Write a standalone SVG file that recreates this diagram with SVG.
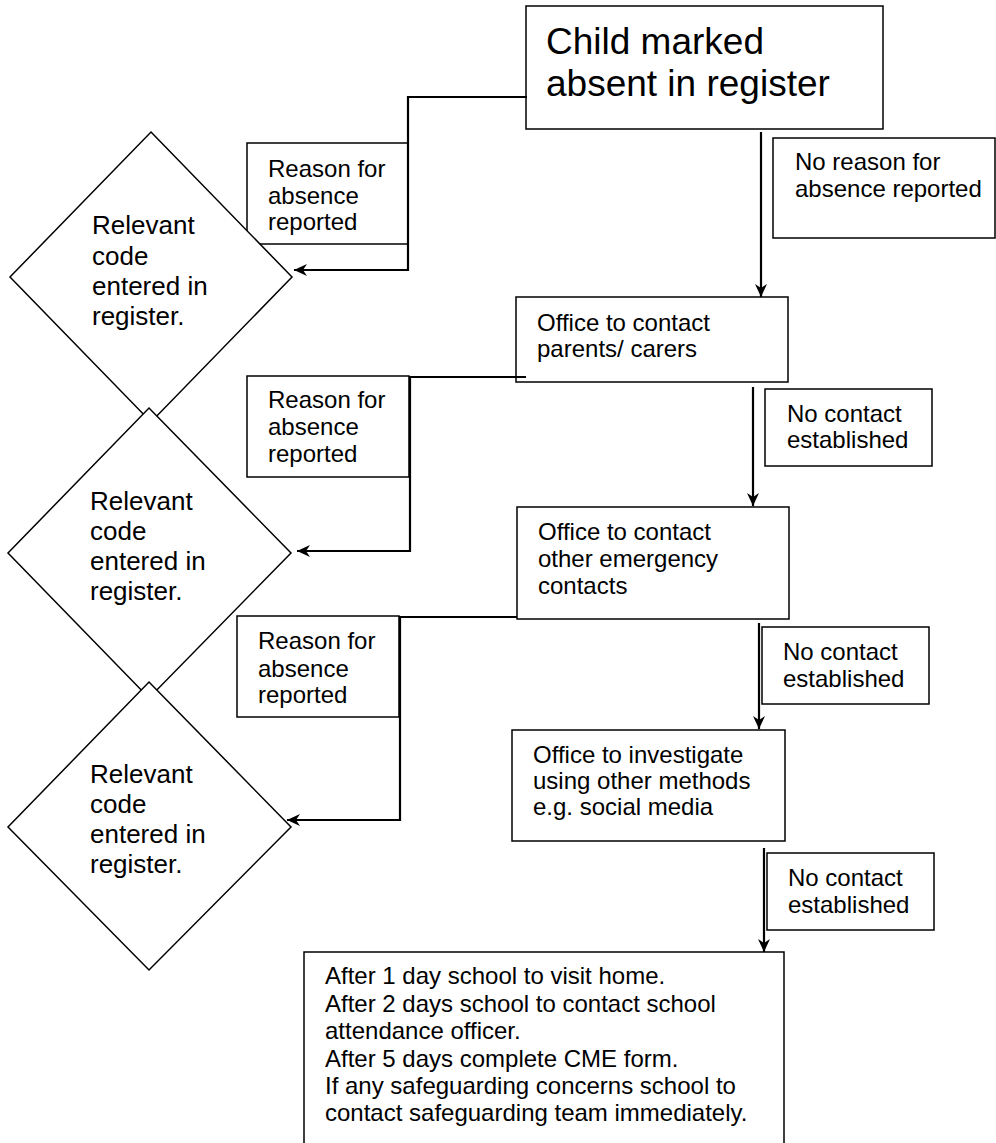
<svg xmlns="http://www.w3.org/2000/svg" width="996" height="1143" viewBox="0 0 996 1143">
<defs>
<marker id="arr" markerUnits="userSpaceOnUse" markerWidth="14" markerHeight="12" refX="13" refY="6" orient="auto">
<path d="M0,0 L13,6 L0,12 L4,6 z" fill="#000"/>
</marker>
<style>
.box{fill:#fff;stroke:#000;stroke-width:1.5}
.dia{fill:#fff;stroke:#000;stroke-width:1.5}
.t{font-family:"Liberation Sans",Arial,sans-serif;font-size:24px;fill:#000}
.td{font-family:"Liberation Sans",Arial,sans-serif;font-size:26px;fill:#000}
.tt{font-family:"Liberation Sans",Arial,sans-serif;font-size:37px;fill:#000}
.ca{fill:none;stroke:#000;stroke-width:2.2;marker-end:url(#arr)}
</style>
</defs>
<rect width="996" height="1143" fill="#fff"/>
<g id="start">
<rect class="box" x="526" y="6" width="357" height="123"/>
<text class="tt" x="546" y="54">Child marked</text>
<text class="tt" x="546" y="96">absent in register</text>
</g>
<g id="label-no-reason">
<rect class="box" x="773" y="138" width="222" height="100"/>
<text class="t" x="795" y="170">No reason for</text>
<text class="t" x="795" y="197">absence reported</text>
</g>
<g id="reason1">
<rect class="box" x="247" y="143" width="161" height="101"/>
<text class="t" x="268" y="177">Reason for</text>
<text class="t" x="268" y="204">absence</text>
<text class="t" x="268" y="230">reported</text>
</g>
<g id="office-parents">
<rect class="box" x="516" y="297" width="272" height="85"/>
<text class="t" x="537" y="331">Office to contact</text>
<text class="t" x="537" y="357">parents/ carers</text>
</g>
<g id="reason2">
<rect class="box" x="247" y="376" width="162" height="101"/>
<text class="t" x="268" y="408">Reason for</text>
<text class="t" x="268" y="435">absence</text>
<text class="t" x="268" y="462">reported</text>
</g>
<g id="label-no-contact1">
<rect class="box" x="765" y="389" width="167" height="77"/>
<text class="t" x="787" y="422">No contact</text>
<text class="t" x="787" y="448">established</text>
</g>
<g id="office-emergency">
<rect class="box" x="517" y="507" width="272" height="112"/>
<text class="t" x="538" y="540">Office to contact</text>
<text class="t" x="538" y="567">other emergency</text>
<text class="t" x="538" y="594">contacts</text>
</g>
<g id="reason3">
<rect class="box" x="237" y="616" width="162" height="101"/>
<text class="t" x="258" y="649">Reason for</text>
<text class="t" x="258" y="677">absence</text>
<text class="t" x="258" y="703">reported</text>
</g>
<g id="label-no-contact2">
<rect class="box" x="762" y="627" width="167" height="77"/>
<text class="t" x="783" y="660">No contact</text>
<text class="t" x="783" y="687">established</text>
</g>
<g id="office-investigate">
<rect class="box" x="512" y="730" width="273" height="111"/>
<text class="t" x="533" y="763">Office to investigate</text>
<text class="t" x="533" y="789">using other methods</text>
<text class="t" x="533" y="815">e.g. social media</text>
</g>
<g id="label-no-contact3">
<rect class="box" x="767" y="853" width="167" height="77"/>
<text class="t" x="788" y="886">No contact</text>
<text class="t" x="788" y="913">established</text>
</g>
<g id="final">
<rect class="box" x="304" y="952" width="480" height="210"/>
<text class="t" x="325" y="984">After 1 day school to visit home.</text>
<text class="t" x="325" y="1012">After 2 days school to contact school</text>
<text class="t" x="325" y="1039">attendance officer.</text>
<text class="t" x="325" y="1067">After 5 days complete CME form.</text>
<text class="t" x="325" y="1094">If any safeguarding concerns school to</text>
<text class="t" x="325" y="1121">contact safeguarding team immediately.</text>
</g>
<g id="decision1">
<polygon class="dia" points="151,132 292,277 151,422 10,277"/>
<text class="td" x="92" y="234">Relevant</text>
<text class="td" x="92" y="265">code</text>
<text class="td" x="92" y="295">entered in</text>
<text class="td" x="92" y="325">register.</text>
</g>
<g id="decision2">
<polygon class="dia" points="149,408 291,553 149,698 8,553"/>
<text class="td" x="90" y="510">Relevant</text>
<text class="td" x="90" y="540">code</text>
<text class="td" x="90" y="570">entered in</text>
<text class="td" x="90" y="600">register.</text>
</g>
<g id="decision3">
<polygon class="dia" points="149,682 291,827 149,970 8,827"/>
<text class="td" x="90" y="783">Relevant</text>
<text class="td" x="90" y="813">code</text>
<text class="td" x="90" y="843">entered in</text>
<text class="td" x="90" y="873">register.</text>
</g>
<g id="connectors">
<path class="ca" d="M527,97 H408 V270 H294"/>
<path class="ca" d="M526,377 H410 V551 H297"/>
<path class="ca" d="M517,617 H400 V820 H287"/>
<path class="ca" d="M761,132 V297"/>
<path class="ca" d="M753,387 V506"/>
<path class="ca" d="M759,623 V729"/>
<path class="ca" d="M764,848 V952"/>
</g>
</svg>
